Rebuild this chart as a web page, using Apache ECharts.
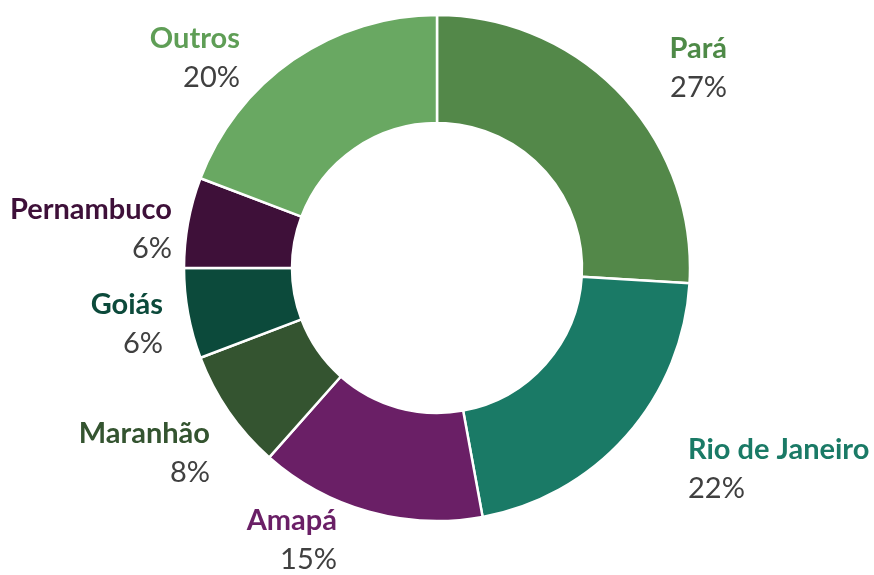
<!DOCTYPE html>
<html>
<head>
<meta charset="utf-8">
<script src="https://cdn.jsdelivr.net/npm/echarts@6/dist/echarts.min.js"></script>
<style>
  html, body { margin: 0; padding: 0; background: #fff; }
  #chart { width: 874px; height: 575px; }
</style>
</head>
<body>
<div id="chart"></div>
<script>
// valores (%)
const estados = ["Pará", "Rio de Janeiro", "Amapá", "Maranhão", "Goiás", "Pernambuco", "Outros"];
const percentuais = [27, 22, 15, 8, 6, 6, 20];

// cores das fatias e dos rótulos
const coresFatia = ["#538849", "#1a7a66", "#6a1f66", "#345430", "#0c4a3b", "#3e1039", "#69a862"];
const coresRotulo = ["#4e8a47", "#1a7a66", "#6a1f66", "#345430", "#0c4a3b", "#3e1039", "#5f9e56"];

// posição dos rótulos [x, y, alinhamento]
const posRotulo = [
  [727, 68, "right"],
  [688, 469, "left"],
  [337, 540, "right"],
  [210, 453, "right"],
  [163, 324, "right"],
  [172, 229, "right"],
  [240, 58, "right"],
];

const chart = echarts.init(document.getElementById("chart"));

const dados = estados.map((nome, i) => ({
  name: nome,
  value: percentuais[i],
  itemStyle: { color: coresFatia[i] },
  label: { color: coresRotulo[i] },
}));

chart.setOption({
  animation: false,
  series: [
    {
      type: "pie",
      center: [437, 268],
      radius: [145, 253],
      startAngle: 90,
      clockwise: true,
      avoidLabelOverlap: false,
      itemStyle: { borderColor: "#fff", borderWidth: 2.5 },
      emphasis: { scale: false },
      label: {
        show: true,
        position: "outside",
        formatter: "{n|{b}}\n{p|{c}%}",
        fontFamily: "Lato",
        rich: {
          n: { fontFamily: "Lato", fontSize: 29, fontWeight: "bold", lineHeight: 39 },
          p: { fontFamily: "Lato", fontSize: 29, color: "#404040", lineHeight: 39 },
        },
      },
      labelLine: { show: false },
      labelLayout: (params) => {
        const p = posRotulo[params.dataIndex];
        return { x: p[0], y: p[1], align: p[2], verticalAlign: "middle" };
      },
      data: dados,
    },
  ],
});
</script>
</body>
</html>
